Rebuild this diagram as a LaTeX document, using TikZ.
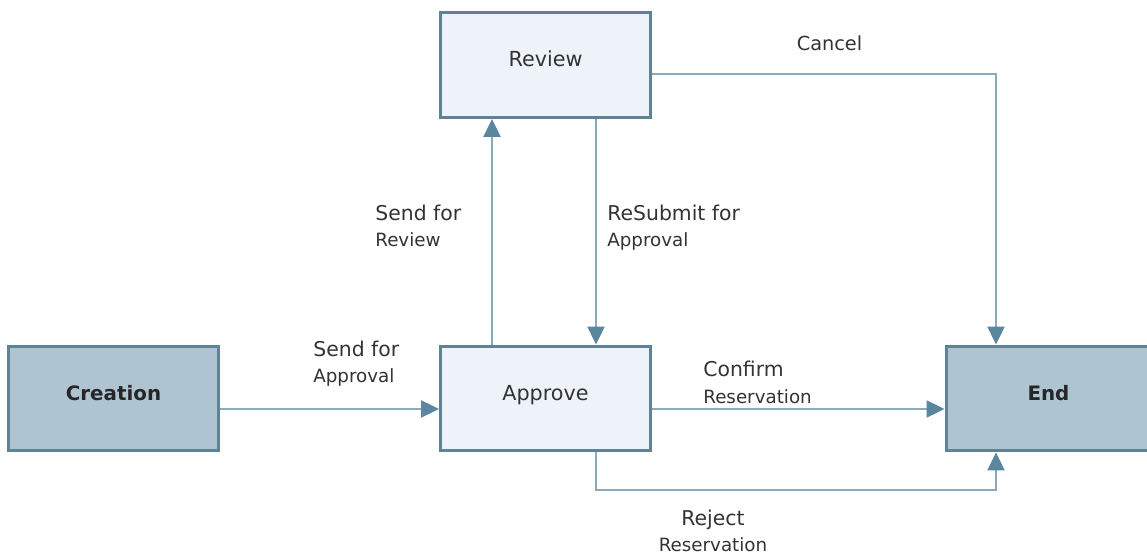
\documentclass[tikz,border=0pt]{standalone}
\usepackage{fontspec}
\setmainfont{DejaVu Sans}
\usetikzlibrary{arrows.meta}

\definecolor{boxline}{HTML}{5E8397}
\definecolor{darkfill}{HTML}{AEC4D1}
\definecolor{lightfill}{HTML}{EEF2F9}
\definecolor{flowline}{HTML}{8CAABB}
\definecolor{tipblue}{HTML}{5A86A0}
\definecolor{labeltext}{HTML}{333333}

\newcommand{\secline}[1]{{\fontsize{10.4pt}{15pt}\selectfont #1}}

\tikzset{
	statebox/.style={draw=boxline, line width=1.7pt, minimum width=4.2cm, minimum height=2.1cm, text height=9pt, text depth=7pt, inner sep=0pt},
	mainstate/.style={statebox, fill=darkfill, font=\fontsize{11.3pt}{13pt}\selectfont\bfseries, text=black!85},
	substate/.style={statebox, fill=lightfill, font=\fontsize{11.8pt}{13pt}\selectfont, text=black!80},
	flow/.style={draw=flowline, line width=1.3pt, -{Triangle[length=0.36cm, width=0.34cm, color=tipblue]}},
	action/.style={font=\fontsize{11.6pt}{15pt}\selectfont, text=labeltext, inner sep=0pt, align=left, anchor=west},
}

\begin{document}
\begin{tikzpicture}[x=0.02cm, y=-0.02cm]
	\useasboundingbox (0,0) rectangle (1147,557);

	\node[mainstate] (creation) at (113.5,398.5) {Creation};
	\node[substate] (review) at (545.5,65) {Review};
	\node[substate] (approve) at (545.5,398.5) {Approve};
	\node[mainstate, minimum width=4.1cm] (endstate) at (1048.5,398.5) {End};

	\coordinate (mid) at (0,409);
	\coordinate (up) at (492,0);
	\coordinate (down) at (596,0);
	\coordinate (cancel) at (996,74);
	\coordinate (reject) at (996,490);

	\draw[flow] (creation.east |- mid) -- (approve.west |- mid);
	\draw[flow] (approve.north -| up) -- (review.south -| up);
	\draw[flow] (review.south -| down) -- (approve.north -| down);
	\draw[flow] (review.east |- cancel) -- (cancel) -- (endstate.north -| cancel);
	\draw[flow] (approve.east |- mid) -- (endstate.west |- mid);
	\draw[flow] (approve.south -| down) |- (reject) -- (endstate.south -| reject);

	\node[action] (sendapproval) at (313,363.5) {Send for\\\secline{Approval}};
	\node[action] (sendreview) at (375,226) {Send for\\\secline{Review}};
	\node[action] (resubmit) at (607,227.5) {ReSubmit for\\\secline{Approval}};
	\node[action] (confirm) at (703,382.5) {Confirm\\\secline{Reservation}};
	\node[action, anchor=center, align=center] (rejectlabel) at (713,531) {Reject\\\secline{Reservation}};
	\node[action, anchor=center, font=\fontsize{11pt}{13pt}\selectfont] (cancellabel) at (829.5,43) {Cancel};
\end{tikzpicture}
\end{document}
